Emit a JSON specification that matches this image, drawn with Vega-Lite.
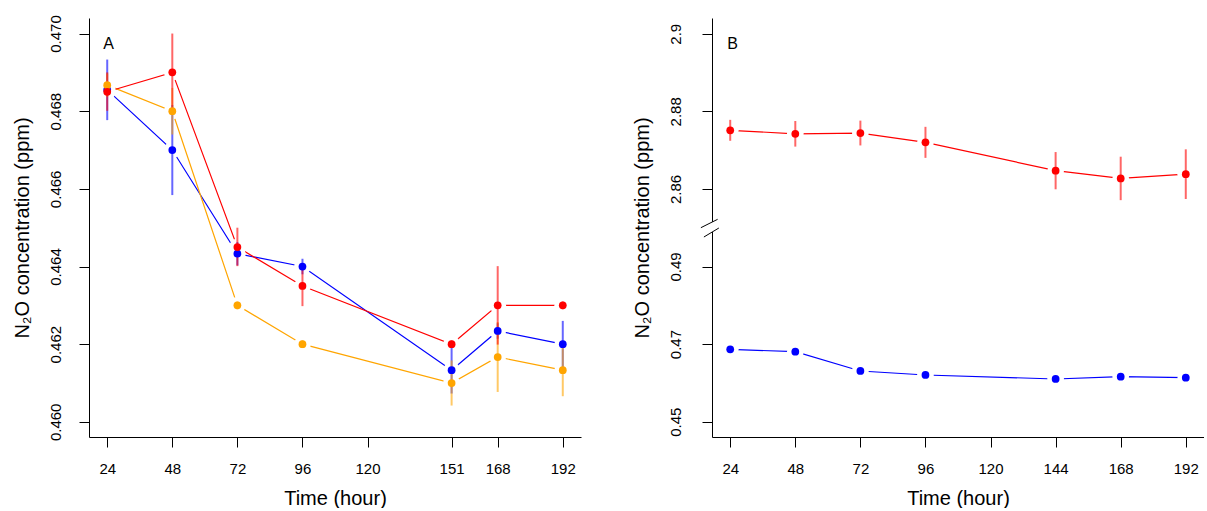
{
  "$schema": "https://vega.github.io/schema/vega-lite/v6.json",
  "background": "white",
  "padding": {"left": 11, "top": 14, "right": 0, "bottom": 0},
  "spacing": 131,
  "bounds": "flush",
  "datasets": {
    "tempA": [
      {"time": 24, "group": "0.6 °C", "value": 0.46855, "lo": 0.46777, "hi": 0.46933},
      {"time": 48, "group": "0.6 °C", "value": 0.46700, "lo": 0.46584, "hi": 0.46816},
      {"time": 72, "group": "0.6 °C", "value": 0.46433, "lo": 0.46403, "hi": 0.46463},
      {"time": 96, "group": "0.6 °C", "value": 0.46400, "lo": 0.46380, "hi": 0.46420},
      {"time": 151, "group": "0.6 °C", "value": 0.46133, "lo": 0.46073, "hi": 0.46193},
      {"time": 168, "group": "0.6 °C", "value": 0.46234, "lo": 0.46214, "hi": 0.46254},
      {"time": 192, "group": "0.6 °C", "value": 0.46200, "lo": 0.46140, "hi": 0.46260},
      {"time": 24, "group": "Room temperature", "value": 0.46867, "lo": 0.46837, "hi": 0.46897},
      {"time": 48, "group": "Room temperature", "value": 0.46800, "lo": 0.46740, "hi": 0.46860},
      {"time": 72, "group": "Room temperature", "value": 0.46300, "lo": 0.46290, "hi": 0.46310},
      {"time": 96, "group": "Room temperature", "value": 0.46200, "lo": 0.46190, "hi": 0.46210},
      {"time": 151, "group": "Room temperature", "value": 0.46100, "lo": 0.46042, "hi": 0.46158},
      {"time": 168, "group": "Room temperature", "value": 0.46167, "lo": 0.46077, "hi": 0.46257},
      {"time": 192, "group": "Room temperature", "value": 0.46133, "lo": 0.46066, "hi": 0.46200},
      {"time": 24, "group": "40 °C", "value": 0.46850, "lo": 0.46801, "hi": 0.46900},
      {"time": 48, "group": "40 °C", "value": 0.46900, "lo": 0.46800, "hi": 0.47000},
      {"time": 72, "group": "40 °C", "value": 0.46450, "lo": 0.46401, "hi": 0.46500},
      {"time": 96, "group": "40 °C", "value": 0.46350, "lo": 0.46298, "hi": 0.46402},
      {"time": 151, "group": "40 °C", "value": 0.46200, "lo": 0.46190, "hi": 0.46210},
      {"time": 168, "group": "40 °C", "value": 0.46300, "lo": 0.46199, "hi": 0.46401},
      {"time": 192, "group": "40 °C", "value": 0.46300, "lo": 0.46290, "hi": 0.46310}
    ],
    "concB": [
      {"time": 24, "group": "High concentration", "value": 2.8751, "lo": 2.8724, "hi": 2.8778},
      {"time": 48, "group": "High concentration", "value": 2.8742, "lo": 2.8709, "hi": 2.8775},
      {"time": 72, "group": "High concentration", "value": 2.8744, "lo": 2.8712, "hi": 2.8776},
      {"time": 96, "group": "High concentration", "value": 2.8720, "lo": 2.8680, "hi": 2.8760},
      {"time": 144, "group": "High concentration", "value": 2.8647, "lo": 2.8599, "hi": 2.8695},
      {"time": 168, "group": "High concentration", "value": 2.8627, "lo": 2.8571, "hi": 2.8683},
      {"time": 192, "group": "High concentration", "value": 2.8638, "lo": 2.8574, "hi": 2.8702},
      {"time": 24, "group": "Low concentration", "value": 0.46866, "lo": 0.46836, "hi": 0.46896},
      {"time": 48, "group": "Low concentration", "value": 0.46804, "lo": 0.46774, "hi": 0.46834},
      {"time": 72, "group": "Low concentration", "value": 0.46307, "lo": 0.46277, "hi": 0.46337},
      {"time": 96, "group": "Low concentration", "value": 0.46204, "lo": 0.46174, "hi": 0.46234},
      {"time": 144, "group": "Low concentration", "value": 0.46101, "lo": 0.46071, "hi": 0.46131},
      {"time": 168, "group": "Low concentration", "value": 0.46160, "lo": 0.46130, "hi": 0.46190},
      {"time": 192, "group": "Low concentration", "value": 0.46134, "lo": 0.46104, "hi": 0.46164}
    ]
  },
  "hconcat": [
    {
      "width": 492,
      "height": 419,
      "layer": [
        {
          "data": {"name": "tempA"},
          "mark": {"type": "line", "strokeWidth": 1.2},
          "encoding": {
            "x": {"field": "time", "type": "quantitative",
              "scale": {"domain": [17.28, 198.72], "nice": false, "zero": false},
              "axis": {"values": [24, 48, 72, 96, 120, 151, 168, 192], "title": "Time (hour)"}},
            "y": {"field": "value", "type": "quantitative",
              "scale": {"domain": [0.45961, 0.4704], "nice": false, "zero": false},
              "axis": {"values": [0.46, 0.462, 0.464, 0.466, 0.468, 0.47], "format": ".3f", "title": "N₂O concentration (ppm)"}},
            "stroke": {"field": "group", "type": "nominal", "legend": null,
              "scale": {"domain": ["0.6 °C", "Room temperature", "40 °C"], "range": ["#0000FF", "#FFA500", "#FF0000"]}}
          }
        },
        {
          "data": {"name": "tempA"},
          "mark": {"type": "circle", "size": 280, "fill": "white", "opacity": 1},
          "encoding": {
            "x": {"field": "time", "type": "quantitative"},
            "y": {"field": "value", "type": "quantitative"}
          }
        },
        {
          "data": {"name": "tempA"},
          "mark": {"type": "rule", "strokeWidth": 2, "opacity": 0.6},
          "encoding": {
            "x": {"field": "time", "type": "quantitative"},
            "y": {"field": "lo", "type": "quantitative"},
            "y2": {"field": "hi"},
            "stroke": {"field": "group", "type": "nominal", "legend": null}
          }
        },
        {
          "data": {"name": "tempA"},
          "mark": {"type": "circle", "size": 60, "opacity": 1},
          "encoding": {
            "x": {"field": "time", "type": "quantitative"},
            "y": {"field": "value", "type": "quantitative"},
            "color": {"field": "group", "type": "nominal",
              "scale": {"domain": ["0.6 °C", "Room temperature", "40 °C"], "range": ["#0000FF", "#FFA500", "#FF0000"]},
              "legend": {"orient": "none", "legendX": 307, "legendY": 21, "title": null,
                "labelFontSize": 17, "labelColor": "black", "symbolSize": 70, "labelOffset": 12, "rowPadding": 5}}
          }
        },
        {
          "data": {"values": [{"label": "A"}]},
          "mark": {"type": "text", "fontSize": 16, "align": "center", "baseline": "middle", "color": "black"},
          "encoding": {"text": {"field": "label"}, "x": {"datum": 24.5}, "y": {"datum": 0.46973}}
        }
      ]
    },
    {
      "width": 492,
      "height": 419,
      "layer": [
        {
          "data": {"name": "concB"},
          "mark": {"type": "line", "strokeWidth": 1.2},
          "encoding": {
            "x": {"field": "time", "type": "quantitative",
              "scale": {"domain": [17.28, 198.72], "nice": false, "zero": false},
              "axis": {"values": [24, 48, 72, 96, 120, 144, 168, 192], "title": "Time (hour)"}},
            "y": {"field": "value", "type": "quantitative",
              "scale": {"domain": [0.44606, 0.5, 2.85, 2.90405], "range": [419, 209.7, 209.7, 0], "nice": false, "zero": false},
              "axis": {"values": [0.45, 0.47, 0.49, 2.86, 2.88, 2.9], "format": ".2~f", "title": "N₂O concentration (ppm)", "labelPadding": 22}},
            "stroke": {"field": "group", "type": "nominal", "legend": null,
              "scale": {"domain": ["High concentration", "Low concentration"], "range": ["#FF0000", "#0000FF"]}}
          }
        },
        {
          "data": {"name": "concB"},
          "mark": {"type": "circle", "size": 280, "fill": "white", "opacity": 1},
          "encoding": {
            "x": {"field": "time", "type": "quantitative"},
            "y": {"field": "value", "type": "quantitative"}
          }
        },
        {
          "data": {"name": "concB"},
          "mark": {"type": "rule", "strokeWidth": 2, "opacity": 0.6},
          "encoding": {
            "x": {"field": "time", "type": "quantitative"},
            "y": {"field": "lo", "type": "quantitative"},
            "y2": {"field": "hi"},
            "stroke": {"field": "group", "type": "nominal", "legend": null}
          }
        },
        {
          "data": {"name": "concB"},
          "mark": {"type": "circle", "size": 60, "opacity": 1},
          "encoding": {
            "x": {"field": "time", "type": "quantitative"},
            "y": {"field": "value", "type": "quantitative"},
            "color": {"field": "group", "type": "nominal",
              "scale": {"domain": ["High concentration", "Low concentration"], "range": ["#FF0000", "#0000FF"]},
              "legend": {"orient": "none", "legendX": 75, "legendY": 21, "title": null, "columns": 2, "columnPadding": 15,
                "labelFontSize": 17, "labelColor": "black", "symbolSize": 70, "labelOffset": 12}}
          }
        },
        {
          "data": {"values": [{"label": "B"}]},
          "mark": {"type": "text", "fontSize": 16, "align": "center", "baseline": "middle", "color": "black"},
          "encoding": {"text": {"field": "label"}, "x": {"datum": 24.9}, "y": {"datum": 2.89725}}
        },
        {
          "data": {"values": [{"part": "gap"}]},
          "mark": {"type": "rule", "color": "white", "strokeWidth": 3},
          "encoding": {"x": {"datum": 17.28}, "y": {"datum": 2.8515}, "y2": {"datum": 0.4989}}
        },
        {
          "data": {"values": [{"part": "upper"}]},
          "mark": {"type": "rule", "color": "black", "strokeWidth": 1},
          "encoding": {"x": {"datum": 13.18}, "x2": {"datum": 19.35}, "y": {"datum": 2.85}, "y2": {"datum": 2.85216}}
        },
        {
          "data": {"values": [{"part": "lower"}]},
          "mark": {"type": "rule", "color": "black", "strokeWidth": 1},
          "encoding": {"x": {"datum": 14.29}, "x2": {"datum": 19.81}, "y": {"datum": 0.4976}, "y2": {"datum": 0.49992}}
        }
      ]
    }
  ],
  "resolve": {"scale": {"color": "independent", "stroke": "independent", "y": "independent"}, "legend": {"color": "independent"}},
  "config": {
    "view": {"stroke": null},
    "font": "Liberation Sans",
    "axis": {
      "grid": false,
      "domainColor": "black",
      "tickColor": "black",
      "labelColor": "black",
      "titleColor": "black",
      "domainWidth": 1,
      "tickWidth": 1,
      "tickSize": 10,
      "labelFont": "Liberation Sans",
      "titleFont": "Liberation Sans",
      "labelFontSize": 15,
      "titleFontSize": 20,
      "titleFontWeight": "normal",
      "labelOverlap": false,
      "labelFlush": false
    },
    "axisX": {"labelPadding": 14, "titlePadding": 12},
    "axisY": {"labelAngle": 270, "labelAlign": "center", "labelBaseline": "alphabetic", "labelPadding": 19, "titlePadding": 16}
  }
}
